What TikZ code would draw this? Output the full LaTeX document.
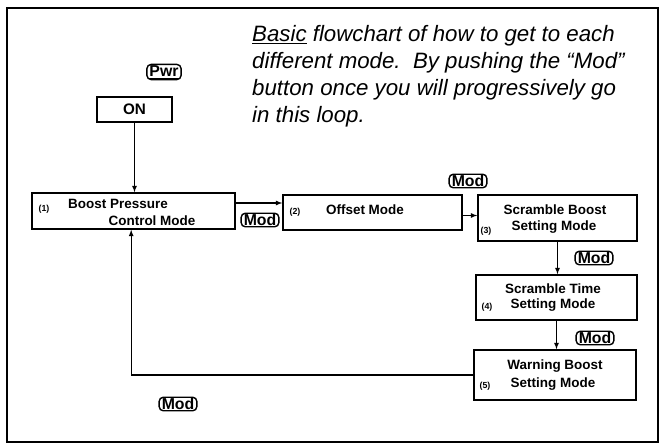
\documentclass[tikz,border=0pt]{standalone}
\usepackage{fontspec}
\setmainfont{Liberation Sans}
\usetikzlibrary{positioning}

\tikzset{
  modebox/.style={draw, line width=1.2pt, inner sep=0pt},
  modetext/.style={font=\fontsize{11.5}{12}\selectfont\bfseries, inner sep=0pt},
  modenum/.style={font=\fontsize{7.5}{8}\selectfont\bfseries, inner sep=0pt},
  keybtn/.style={draw, line width=1.2pt, rounded corners=3.5pt, inner xsep=2.2pt, inner ysep=0.8pt,
    font=\fontsize{13.5}{14}\selectfont\bfseries},
  notetext/.style={anchor=base west, inner sep=0pt, font=\fontsize{19}{23}\selectfont\itshape},
  link/.style={->, >=latex, line width=0.9pt}
}

\begin{document}
\begin{tikzpicture}[x=0.03cm, y=-0.03cm]
    \useasboundingbox (0,0) rectangle (661,446);

    % Draw the frame
    \draw[line width=1.3pt] (7,8) rectangle (658,442);

    % Add the note
    \node[notetext] (note1) at (252,41) {\underline{Basic} flowchart of how to get to each};
    \node[notetext] (note2) at (252,68) {different mode.\ \ By pushing the ``Mod''};
    \node[notetext] (note3) at (252,95) {button once you will progressively go};
    \node[notetext] (note4) at (252,122) {in this loop.};

    % Power on
    \node[keybtn] (pwr) at (164,72) {\underline{Pwr}};
    \node[modebox, minimum width=2.25cm, minimum height=0.75cm,
      font=\fontsize{13}{14}\selectfont\bfseries] (on) at (134.5,109.5) {ON};

    % Draw the mode boxes
    \node[modebox, minimum width=6.09cm, minimum height=1.08cm] (b1) at (133.5,211) {};
    \node[modebox, minimum width=5.37cm, minimum height=1.05cm] (b2) at (372.5,212.5) {};
    \node[modebox, minimum width=4.77cm, minimum height=1.38cm] (b3) at (557.5,218) {};
    \node[modebox, minimum width=4.83cm, minimum height=1.35cm] (b4) at (556.5,297.5) {};
    \node[modebox, minimum width=4.86cm, minimum height=1.50cm] (b5) at (555,375) {};

    % Add the mode names
    \node[modenum] (n1) at (44,209) {(1)};
    \node[modetext] (t1a) at (118,204) {Boost Pressure};
    \node[modetext] (t1b) at (152,221) {Control Mode};
    \node[modenum] (n2) at (295,212) {(2)};
    \node[modetext] (t2) at (365,210) {Offset Mode};
    \node[modenum] (n3) at (486,231) {(3)};
    \node[modetext] (t3a) at (555,210) {Scramble Boost};
    \node[modetext] (t3b) at (554,227) {Setting Mode};
    \node[modenum] (n4) at (487,307) {(4)};
    \node[modetext] (t4a) at (553,289) {Scramble Time};
    \node[modetext] (t4b) at (553,305) {Setting Mode};
    \node[modenum] (n5) at (485,386) {(5)};
    \node[modetext] (t5a) at (555,366) {Warning Boost};
    \node[modetext] (t5b) at (553,384) {Setting Mode};

    % Add the Mod buttons
    \node[keybtn] (m12) at (260,220) {Mod};
    \node[keybtn] (m23) at (468,181) {Mod};
    \node[keybtn] (m34) at (594,258) {Mod};
    \node[keybtn] (m45) at (595,338) {Mod};
    \node[keybtn] (m51) at (178,404) {Mod};

    % Add arrows
    \draw[link] (on.south) -- (on.south |- b1.north);
    \draw[link] ([yshift=0.24cm]b1.east) -- ([yshift=0.24cm]b1.east -| b2.west);
    \draw[link] ([yshift=-0.09cm]b2.east) -- ([yshift=-0.09cm]b2.east -| b3.west);
    \draw[link] (b3.south) -- (b3.south |- b4.north);
    \draw[link] (b4.south) -- (b4.south |- b5.north);
    \draw[link] (b5.west) -| ([xshift=-0.07cm]b1.south);
\end{tikzpicture}
\end{document}
